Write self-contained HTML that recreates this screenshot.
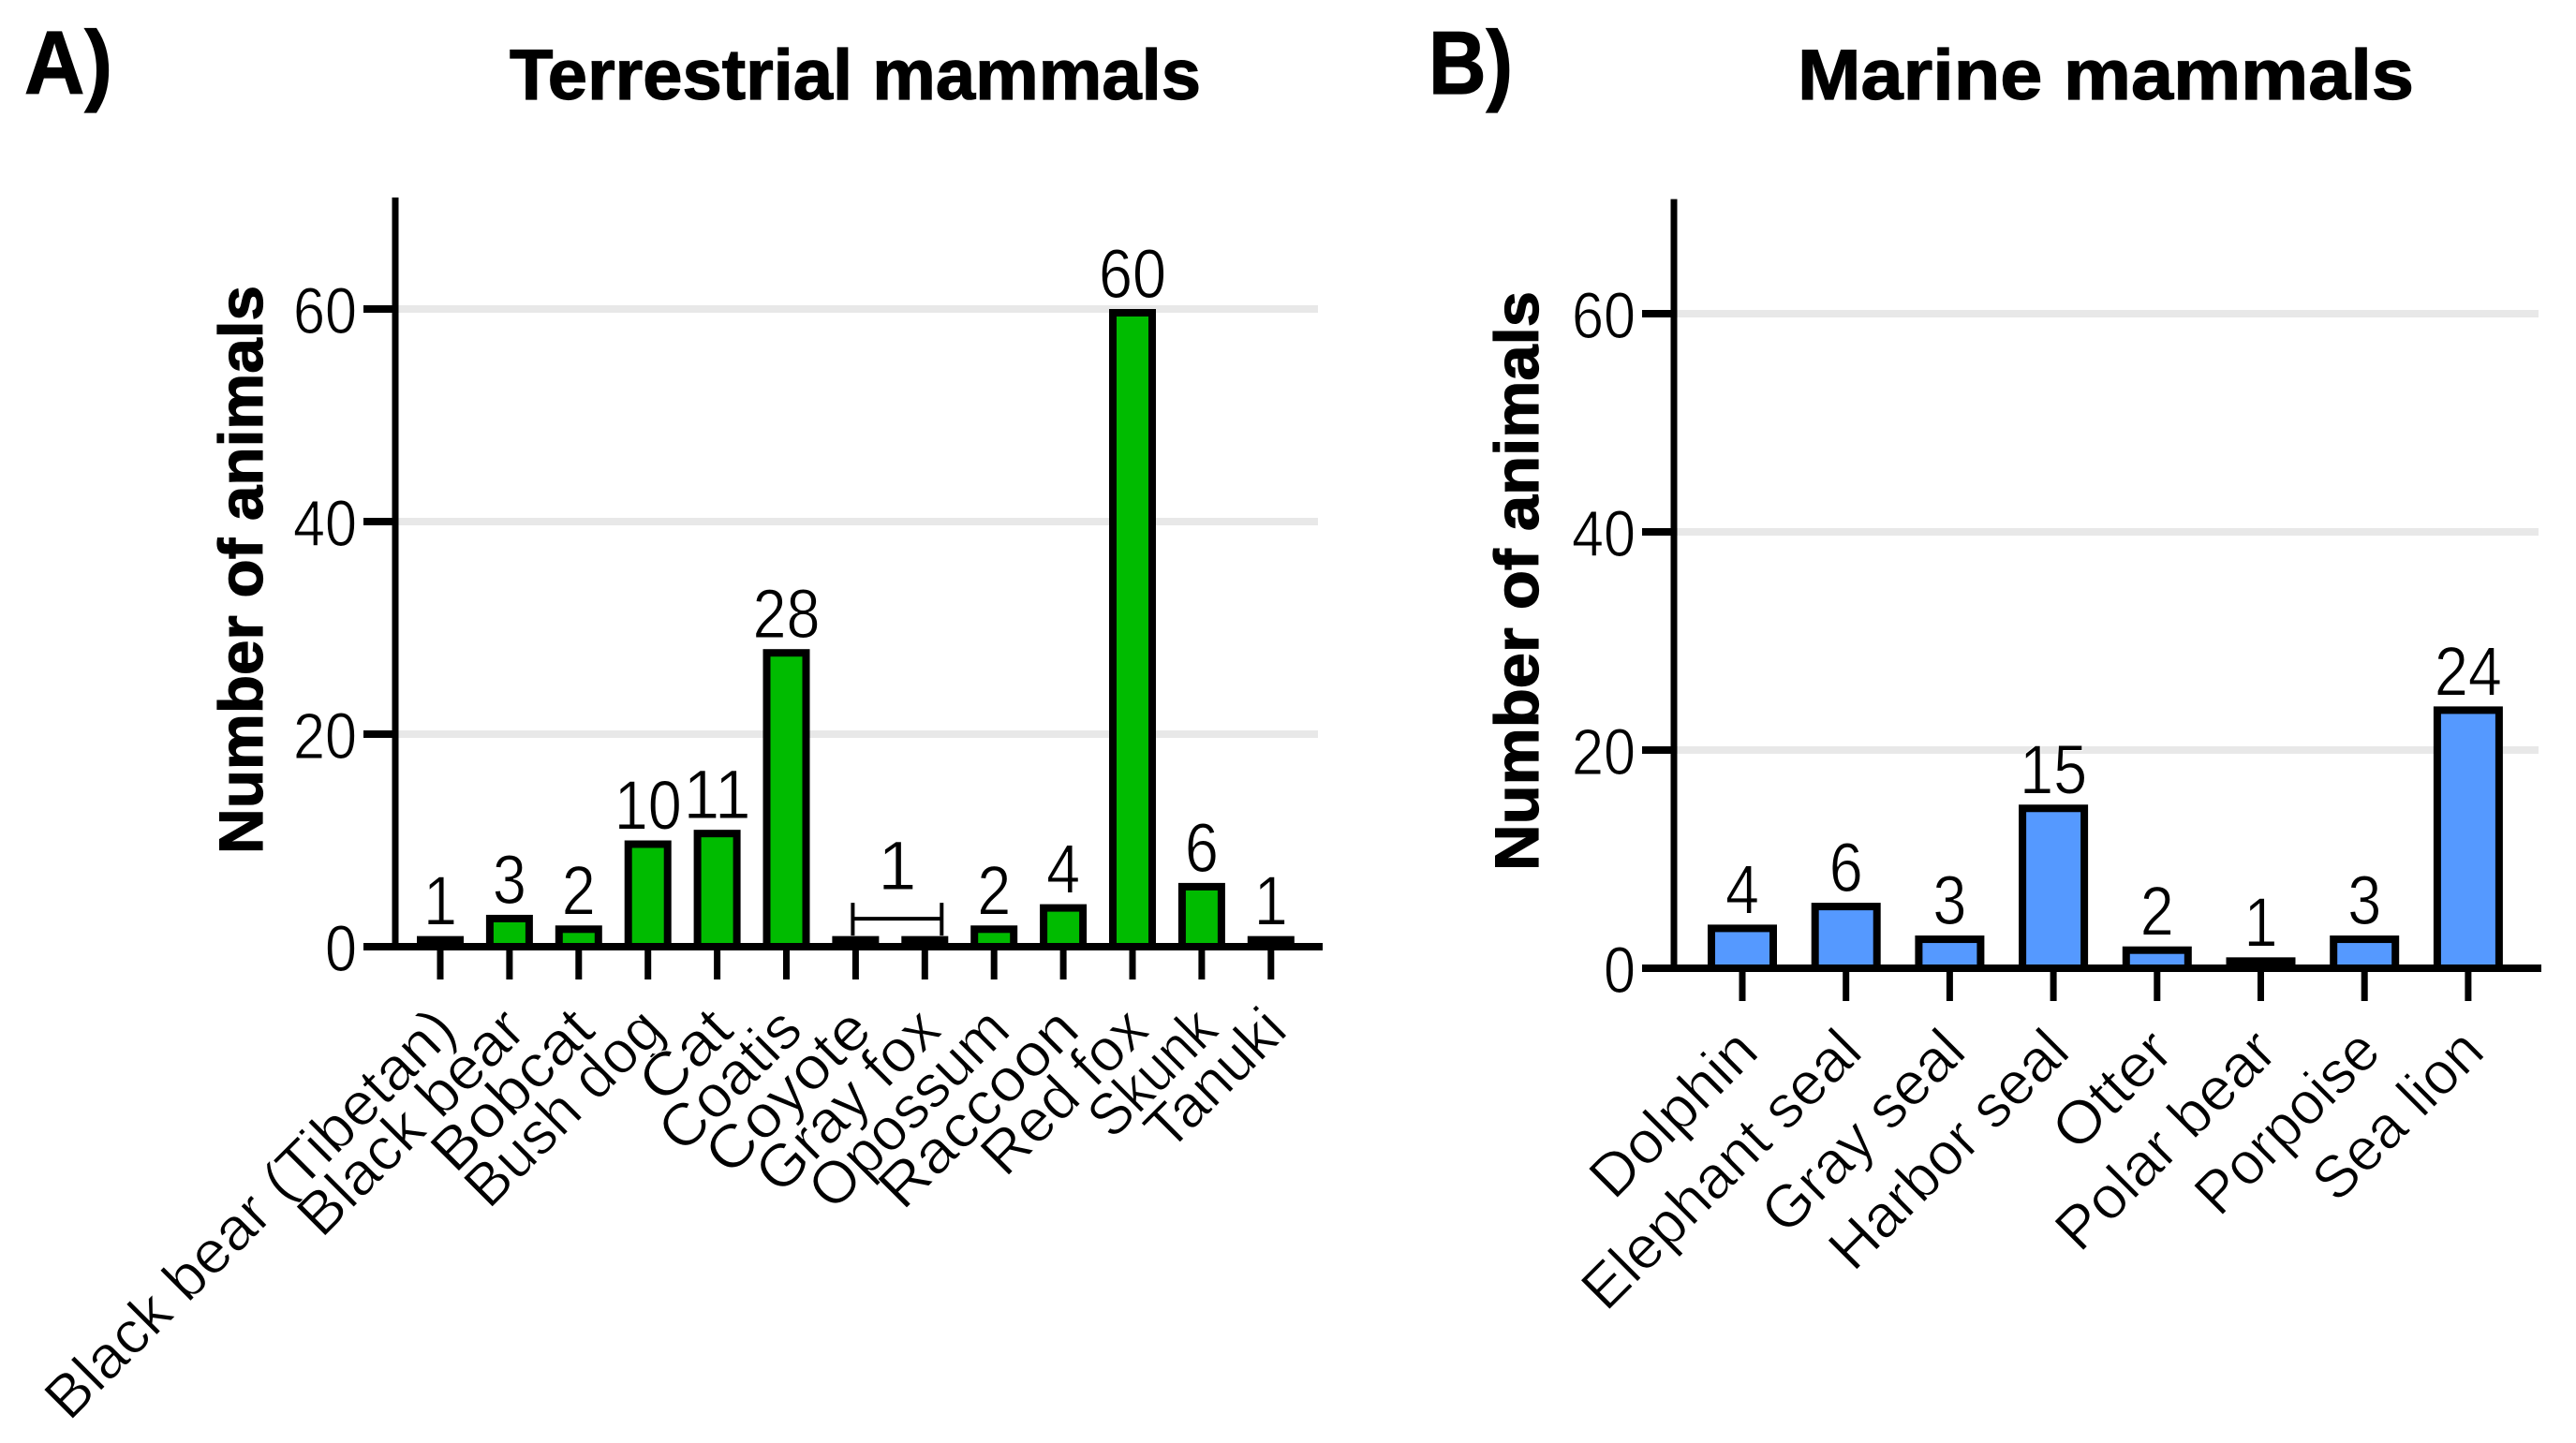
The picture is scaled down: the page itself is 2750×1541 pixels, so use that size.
<!DOCTYPE html>
<html lang="en">
<head>
<meta charset="utf-8">
<title>Terrestrial and marine mammals</title>
<style>
html,body{margin:0;padding:0;background:#fff;}
svg{display:block;}
text{font-family:"Liberation Sans",sans-serif;fill:#000;}
text.heavy{stroke:#000;stroke-width:1.2px;}
text.light{stroke:#fff;stroke-width:1px;}
</style>
</head>
<body>
<svg id="figure" xmlns="http://www.w3.org/2000/svg" width="2750" height="1541" viewBox="0 0 2750 1541">
  <rect width="2750" height="1541" fill="#fff"/>
  <text class="heavy" x="26" y="100" font-size="96" font-weight="700" textLength="94" lengthAdjust="spacingAndGlyphs">A)</text>
  <text class="heavy" x="1525" y="100" font-size="96" font-weight="700" textLength="90" lengthAdjust="spacingAndGlyphs">B)</text>
  <text class="heavy" x="544" y="106" font-size="76" font-weight="700" textLength="738" lengthAdjust="spacingAndGlyphs">Terrestrial mammals</text>
  <text class="heavy" x="1919" y="106" font-size="76" font-weight="700" textLength="658" lengthAdjust="spacingAndGlyphs">Marine mammals</text>
  <text class="heavy" transform="translate(280,912) rotate(-90)" font-size="66" font-weight="700" textLength="607" lengthAdjust="spacingAndGlyphs">Number of animals</text>
  <text class="heavy" transform="translate(1642,930) rotate(-90)" font-size="66" font-weight="700" textLength="619" lengthAdjust="spacingAndGlyphs">Number of animals</text>
  <g id="panel-a"></g>
  <g id="panel-b"></g>
</svg>
<script>
const terrestrialCategories = ["Black bear (Tibetan)", "Black bear", "Bobcat", "Bush dog", "Cat", "Coatis", "Coyote", "Gray fox", "Opossum", "Raccoon", "Red fox", "Skunk", "Tanuki"];
const terrestrialValues = [1, 3, 2, 10, 11, 28, 1, 1, 2, 4, 60, 6, 1];
const marineCategories = ["Dolphin", "Elephant seal", "Gray seal", "Harbor seal", "Otter", "Polar bear", "Porpoise", "Sea lion"];
const marineValues = [4, 6, 3, 15, 2, 1, 3, 24];
const yTickValues = [0, 20, 40, 60];
const gridValues = [20, 40, 60];
const sharedLabelCategories = ["Coyote", "Gray fox"];
const sharedLabelValue = 1;

const NS = "http://www.w3.org/2000/svg";
const glyphAdvance = {a:683,b:682,c:647,d:685,e:650,f:314,g:674,h:610,i:200,j:203,k:502,l:200,m:938,n:610,o:655,p:682,q:682,r:301,s:388,t:339,u:608,v:554,w:831,x:480,y:536,z:425," ":277,A:740,B:574,C:813,D:744,E:536,F:485,G:872,H:683,I:226,J:482,K:591,L:462,M:919,N:740,O:869,P:592,Q:871,R:607,S:498,T:426,U:655,V:702,W:960,X:609,Y:592,Z:480,"(":369,")":369};

function labelLength(label) {
  let units = 0;
  for (const ch of label) units += glyphAdvance[ch] || 550;
  return units / 1000 * 60;
}

function make(parent, tag, attrs) {
  const el = document.createElementNS(NS, tag);
  for (const k in attrs) el.setAttribute(k, attrs[k]);
  parent.appendChild(el);
  return el;
}

function drawChart(cfg) {
  const root = document.getElementById(cfg.id);
  const y = v => cfg.zeroY - v * cfg.unit;
  const x = i => cfg.firstX + i * cfg.step;

  gridValues.forEach(v => {
    const line = make(root, "line", {x1: cfg.axisX, x2: cfg.gridEnd, y1: y(v), y2: y(v), stroke: "#e8e8e8", "stroke-width": 8});
    
    
  });

  cfg.values.forEach((v, i) => {
    const inset = cfg.stroke / 2;
    const rect = make(root, "rect", {
      x: x(i) - cfg.barWidth / 2 + inset,
      y: y(v) + inset,
      width: cfg.barWidth - cfg.stroke,
      height: Math.max(0, v * cfg.unit - inset),
      fill: cfg.color, stroke: "#000", "stroke-width": cfg.stroke
    });
    
    
  });

  const yAxis = make(root, "line", {x1: cfg.axisX, x2: cfg.axisX, y1: y(70.5), y2: cfg.zeroY + 4, stroke: "#000", "stroke-width": 7});
  
  
  const xAxis = make(root, "line", {x1: cfg.axisStart, x2: cfg.axisEnd, y1: cfg.zeroY, y2: cfg.zeroY, stroke: "#000", "stroke-width": 8});
  
  

  yTickValues.forEach(v => {
    const tick = make(root, "line", {x1: cfg.axisStart, x2: cfg.axisX, y1: y(v), y2: y(v), stroke: "#000", "stroke-width": 8});
    
    
    const s = String(v);
    const label = make(root, "text", {class: "light", x: cfg.axisStart - 7, y: y(v) + 26, "font-size": 70, "text-anchor": "end", textLength: s.length * 34, lengthAdjust: "spacingAndGlyphs"});
    label.textContent = s;
    
    
  });

  cfg.categories.forEach((c, i) => {
    const tick = make(root, "line", {x1: x(i), x2: x(i), y1: cfg.zeroY, y2: cfg.zeroY + 35, stroke: "#000", "stroke-width": 7});
    
    
    const label = make(root, "text", {
      class: "light",
      transform: "translate(" + (x(i) + 20) + "," + (cfg.zeroY + 92) + ") rotate(-45)",
      "font-size": 64, "text-anchor": "end",
      textLength: labelLength(c), lengthAdjust: "spacingAndGlyphs"
    });
    label.textContent = c;
    
    
  });

  cfg.values.forEach((v, i) => {
    if (cfg.shared && cfg.shared.indexOf(cfg.categories[i]) >= 0) return;
    const s = String(v);
    const label = make(root, "text", {class: "light", x: x(i), y: y(v) - 12, "font-size": 74, "text-anchor": "middle", textLength: s.length * 36, lengthAdjust: "spacingAndGlyphs"});
    label.textContent = s;
    
    
  });

  if (cfg.shared) {
    const a = x(cfg.categories.indexOf(cfg.shared[0])) - 3;
    const b = x(cfg.categories.indexOf(cfg.shared[1])) + 18;
    const level = y(2.9) + 3;
    const bracket = make(root, "path", {
      d: "M" + a + " " + (level - 17) + "V" + (level + 18) + "M" + a + " " + level + "H" + b + "M" + b + " " + (level - 17) + "V" + (level + 18),
      fill: "none", stroke: "#000", "stroke-width": 4
    });
    
    
    const label = make(root, "text", {class: "light", x: (a + b) / 2, y: level - 31, "font-size": 74, "text-anchor": "middle"});
    label.textContent = String(sharedLabelValue);
    
    
  }
}

drawChart({
  id: "panel-a", categories: terrestrialCategories, values: terrestrialValues,
  zeroY: 1011, unit: 11.35, firstX: 470, step: 73.9, axisX: 422, axisStart: 388, axisEnd: 1412,
  gridEnd: 1407, barWidth: 50, stroke: 8, color: "#00BB00", shared: sharedLabelCategories
});
drawChart({
  id: "panel-b", categories: marineCategories, values: marineValues,
  zeroY: 1034, unit: 11.65, firstX: 1860, step: 110.7, axisX: 1787, axisStart: 1753, axisEnd: 2713,
  gridEnd: 2710, barWidth: 74, stroke: 8, color: "#5599FF", shared: null
});
</script>
</body>
</html>
